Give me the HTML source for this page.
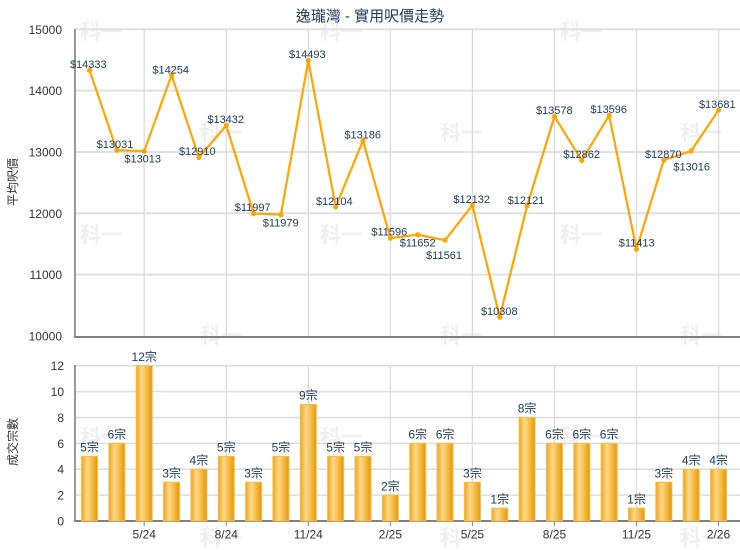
<!DOCTYPE html>
<html><head><meta charset="utf-8"><style>
html,body{margin:0;padding:0;background:#fff;}
svg{display:block;}
text{font-family:"Liberation Sans","Noto Sans CJK TC",sans-serif;}
</style></head><body>
<svg width="740" height="550" viewBox="0 0 740 550" xmlns="http://www.w3.org/2000/svg">
<defs>
<linearGradient id="bg" x1="0" y1="0" x2="1" y2="0">
<stop offset="0" stop-color="#eea41c"/>
<stop offset="0.35" stop-color="#fdd98c"/>
<stop offset="0.6" stop-color="#f7c250"/>
<stop offset="1" stop-color="#e6960c"/>
</linearGradient>
</defs>
<rect width="740" height="550" fill="#fff"/>
<!-- watermarks -->
<g fill="#efefef" font-size="21" font-weight="bold" font-family="'Noto Sans CJK TC',sans-serif" text-anchor="middle">
<text x="101" y="39">科一</text><text x="341" y="39">科一</text><text x="581" y="39">科一</text>
<text x="221" y="140">科一</text><text x="461" y="140">科一</text><text x="701" y="140">科一</text>
<text x="101" y="242">科一</text><text x="341" y="242">科一</text><text x="581" y="242">科一</text>
<text x="221" y="343">科一</text><text x="461" y="343">科一</text><text x="701" y="343">科一</text>
<text x="101" y="444">科一</text><text x="341" y="444">科一</text><text x="581" y="444">科一</text>
<text x="221" y="545">科一</text><text x="461" y="545">科一</text><text x="701" y="545">科一</text>
</g>
<!-- title -->
<text x="370" y="21" font-size="15" fill="#1c3d60" text-anchor="middle">逸瓏灣 - 實用呎價走勢</text>
<!-- top grid -->
<g stroke="#e0e0e0" stroke-width="2">
<line x1="75" y1="29.3" x2="740" y2="29.3"/>
<line x1="75" y1="90.6" x2="740" y2="90.6"/>
<line x1="75" y1="152" x2="740" y2="152"/>
<line x1="75" y1="213.3" x2="740" y2="213.3"/>
<line x1="75" y1="274.6" x2="740" y2="274.6"/>
</g>
<g stroke="#dcdcdc" stroke-width="1.3">
<line x1="144.2" y1="29" x2="144.2" y2="336"/>
<line x1="226.25" y1="29" x2="226.25" y2="336"/>
<line x1="308.3" y1="29" x2="308.3" y2="336"/>
<line x1="390.35" y1="29" x2="390.35" y2="336"/>
<line x1="472.4" y1="29" x2="472.4" y2="336"/>
<line x1="554.45" y1="29" x2="554.45" y2="336"/>
<line x1="636.5" y1="29" x2="636.5" y2="336"/>
<line x1="718.55" y1="29" x2="718.55" y2="336"/>
</g>
<!-- bottom grid -->
<g stroke="#dddddd" stroke-width="1.5">
<line x1="75" y1="365.7" x2="740" y2="365.7"/>
<line x1="75" y1="391.6" x2="740" y2="391.6"/>
<line x1="75" y1="417.5" x2="740" y2="417.5"/>
<line x1="75" y1="443.4" x2="740" y2="443.4"/>
<line x1="75" y1="469.2" x2="740" y2="469.2"/>
<line x1="75" y1="495.1" x2="740" y2="495.1"/>
</g>
<g stroke="#dcdcdc" stroke-width="1.3">
<line x1="144.2" y1="365" x2="144.2" y2="521"/>
<line x1="226.25" y1="365" x2="226.25" y2="521"/>
<line x1="308.3" y1="365" x2="308.3" y2="521"/>
<line x1="390.35" y1="365" x2="390.35" y2="521"/>
<line x1="472.4" y1="365" x2="472.4" y2="521"/>
<line x1="554.45" y1="365" x2="554.45" y2="521"/>
<line x1="636.5" y1="365" x2="636.5" y2="521"/>
<line x1="718.55" y1="365" x2="718.55" y2="521"/>
</g>
<!-- axes -->
<g stroke="#9a9a9a" stroke-width="2">
<line x1="75" y1="29" x2="75" y2="338"/>
<line x1="75" y1="365" x2="75" y2="522"/>
</g>
<g stroke="#808080" stroke-width="2">
<line x1="74" y1="337" x2="740" y2="337"/>
<line x1="74" y1="521" x2="740" y2="521"/>
</g>
<g stroke="#808080" stroke-width="1">
<line x1="144.2" y1="521" x2="144.2" y2="526"/>
<line x1="226.25" y1="521" x2="226.25" y2="526"/>
<line x1="308.3" y1="521" x2="308.3" y2="526"/>
<line x1="390.35" y1="521" x2="390.35" y2="526"/>
<line x1="472.4" y1="521" x2="472.4" y2="526"/>
<line x1="554.45" y1="521" x2="554.45" y2="526"/>
<line x1="636.5" y1="521" x2="636.5" y2="526"/>
<line x1="718.55" y1="521" x2="718.55" y2="526"/>
</g>
<!-- y tick labels top -->
<g font-size="12" fill="#333" text-anchor="end">
<text x="62" y="34">15000</text>
<text x="62" y="95">14000</text>
<text x="62" y="156.5">13000</text>
<text x="62" y="218">12000</text>
<text x="62" y="279">11000</text>
<text x="62" y="340.5">10000</text>
</g>
<g font-size="12" fill="#333" text-anchor="end">
<text x="64" y="370">12</text>
<text x="64" y="396">10</text>
<text x="64" y="422">8</text>
<text x="64" y="448">6</text>
<text x="64" y="473.7">4</text>
<text x="64" y="499.6">2</text>
<text x="64" y="525.5">0</text>
</g>
<!-- x labels -->
<g font-size="12" fill="#333" text-anchor="middle">
<text x="144.2" y="538.5">5/24</text>
<text x="226.25" y="538.5">8/24</text>
<text x="308.3" y="538.5">11/24</text>
<text x="390.35" y="538.5">2/25</text>
<text x="472.4" y="538.5">5/25</text>
<text x="554.45" y="538.5">8/25</text>
<text x="636.5" y="538.5">11/25</text>
<text x="718.55" y="538.5">2/26</text>
</g>
<!-- axis titles -->
<text transform="translate(17,182) rotate(-90)" font-size="12" fill="#333" text-anchor="middle">平均呎價</text>
<text transform="translate(17,442) rotate(-90)" font-size="12" fill="#333" text-anchor="middle">成交宗數</text>
<!-- bars -->
<g fill="url(#bg)" stroke="#f6bd4a" stroke-width="1">
<rect x="81.5" y="456.3" width="16" height="64.7"/>
<rect x="108.85" y="443.4" width="16" height="77.6"/>
<rect x="136.2" y="365.7" width="16" height="155.3"/>
<rect x="163.55" y="482.2" width="16" height="38.8"/>
<rect x="190.9" y="469.2" width="16" height="51.8"/>
<rect x="218.25" y="456.3" width="16" height="64.7"/>
<rect x="245.6" y="482.2" width="16" height="38.8"/>
<rect x="272.95" y="456.3" width="16" height="64.7"/>
<rect x="300.3" y="404.5" width="16" height="116.5"/>
<rect x="327.65" y="456.3" width="16" height="64.7"/>
<rect x="355" y="456.3" width="16" height="64.7"/>
<rect x="382.35" y="495.1" width="16" height="25.9"/>
<rect x="409.7" y="443.4" width="16" height="77.6"/>
<rect x="437.05" y="443.4" width="16" height="77.6"/>
<rect x="464.4" y="482.2" width="16" height="38.8"/>
<rect x="491.75" y="508.1" width="16" height="12.9"/>
<rect x="519.1" y="417.5" width="16" height="103.5"/>
<rect x="546.45" y="443.4" width="16" height="77.6"/>
<rect x="573.8" y="443.4" width="16" height="77.6"/>
<rect x="601.15" y="443.4" width="16" height="77.6"/>
<rect x="628.5" y="508.1" width="16" height="12.9"/>
<rect x="655.85" y="482.2" width="16" height="38.8"/>
<rect x="683.2" y="469.2" width="16" height="51.8"/>
<rect x="710.55" y="469.2" width="16" height="51.8"/>
</g>
<g font-size="12" fill="#1c3d60" text-anchor="middle">
<text x="89.5" y="451.5">5宗</text>
<text x="116.85" y="438.6">6宗</text>
<text x="144.2" y="360.9">12宗</text>
<text x="171.55" y="477.4">3宗</text>
<text x="198.9" y="464.4">4宗</text>
<text x="226.25" y="451.5">5宗</text>
<text x="253.6" y="477.4">3宗</text>
<text x="280.95" y="451.5">5宗</text>
<text x="308.3" y="399.7">9宗</text>
<text x="335.65" y="451.5">5宗</text>
<text x="363" y="451.5">5宗</text>
<text x="390.35" y="490.3">2宗</text>
<text x="417.7" y="438.6">6宗</text>
<text x="445.05" y="438.6">6宗</text>
<text x="472.4" y="477.4">3宗</text>
<text x="499.75" y="503.3">1宗</text>
<text x="527.1" y="412.7">8宗</text>
<text x="554.45" y="438.6">6宗</text>
<text x="581.8" y="438.6">6宗</text>
<text x="609.15" y="438.6">6宗</text>
<text x="636.5" y="503.3">1宗</text>
<text x="663.85" y="477.4">3宗</text>
<text x="691.2" y="464.4">4宗</text>
<text x="718.55" y="464.4">4宗</text>
</g>
<!-- line -->
<polyline fill="none" stroke="#ffa500" stroke-width="2.2" stroke-linejoin="round" points="89.5,70.2 116.85,150.1 144.2,151.2 171.55,75.1 198.9,157.5 226.25,125.5 253.6,213.5 280.95,214.6 308.3,60.4 335.65,206.9 363,140.6 390.35,238.1 417.7,234.7 445.05,240.2 472.4,205.2 499.75,317.1 527.1,205.9 554.45,116.5 581.8,160.4 609.15,115.4 636.5,249.3 663.85,160 691.2,151 718.55,110.2"/>
<g fill="#ffa500">
<circle cx="89.5" cy="70.2" r="2.6"/><circle cx="116.85" cy="150.1" r="2.6"/><circle cx="144.2" cy="151.2" r="2.6"/><circle cx="171.55" cy="75.1" r="2.6"/><circle cx="198.9" cy="157.5" r="2.6"/><circle cx="226.25" cy="125.5" r="2.6"/><circle cx="253.6" cy="213.5" r="2.6"/><circle cx="280.95" cy="214.6" r="2.6"/><circle cx="308.3" cy="60.4" r="2.6"/><circle cx="335.65" cy="206.9" r="2.6"/><circle cx="363" cy="140.6" r="2.6"/><circle cx="390.35" cy="238.1" r="2.6"/><circle cx="417.7" cy="234.7" r="2.6"/><circle cx="445.05" cy="240.2" r="2.6"/><circle cx="472.4" cy="205.2" r="2.6"/><circle cx="499.75" cy="317.1" r="2.6"/><circle cx="527.1" cy="205.9" r="2.6"/><circle cx="554.45" cy="116.5" r="2.6"/><circle cx="581.8" cy="160.4" r="2.6"/><circle cx="609.15" cy="115.4" r="2.6"/><circle cx="636.5" cy="249.3" r="2.6"/><circle cx="663.85" cy="160" r="2.6"/><circle cx="691.2" cy="151" r="2.6"/><circle cx="718.55" cy="110.2" r="2.6"/>
</g>
<g font-size="11" fill="#1c3d60" text-anchor="middle">
<text x="88.3" y="68">$14333</text>
<text x="115" y="148">$13031</text>
<text x="142.7" y="162.3">$13013</text>
<text x="170.7" y="73.3">$14254</text>
<text x="197.3" y="155">$12910</text>
<text x="225.7" y="123">$13432</text>
<text x="252.7" y="211">$11997</text>
<text x="280.7" y="226.3">$11979</text>
<text x="307.3" y="58">$14493</text>
<text x="334.3" y="205">$12104</text>
<text x="362.7" y="138.3">$13186</text>
<text x="389.3" y="235.7">$11596</text>
<text x="417.7" y="246.3">$11652</text>
<text x="444" y="259">$11561</text>
<text x="471.7" y="203">$12132</text>
<text x="499.3" y="315">$10308</text>
<text x="526" y="204">$12121</text>
<text x="554.3" y="114">$13578</text>
<text x="581.7" y="158">$12862</text>
<text x="608.7" y="113">$13596</text>
<text x="636.7" y="246.7">$11413</text>
<text x="663.3" y="158">$12870</text>
<text x="691.7" y="170.7">$13016</text>
<text x="717.3" y="108">$13681</text>
</g>
</svg>
</body></html>
